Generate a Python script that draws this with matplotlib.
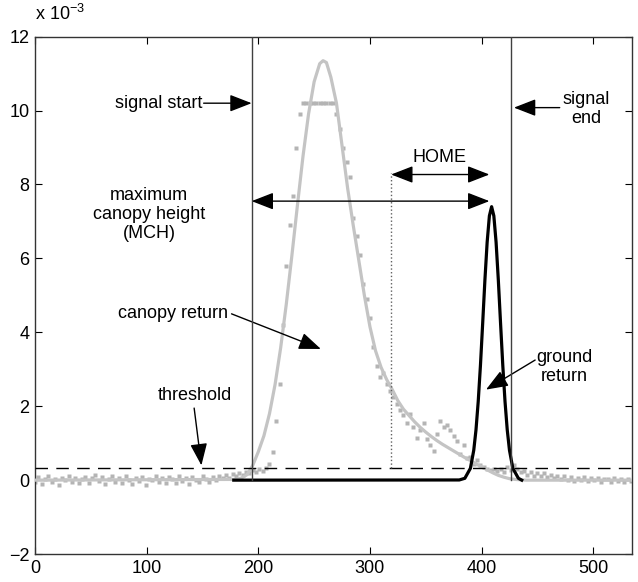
import matplotlib
matplotlib.use('Agg')
import matplotlib.pyplot as plt
import numpy as np

plt.rcParams['font.family'] = ['Liberation Sans', 'DejaVu Sans']
plt.rcParams['mathtext.default'] = 'regular'

# raw waveform samples (x 10^-3), one every 3 bins
sig_x = np.arange(0, 535, 3)
sig_y = [-0.05, 0.08, -0.10, 0.02, 0.10, -0.06, 0.04, -0.12, 0.06, 0.00,
         0.11, -0.04, 0.07, -0.09, 0.03, 0.09, -0.07, 0.05, 0.13, -0.03,
         0.08, -0.11, 0.02, 0.10, -0.05, 0.06, -0.08, 0.12, 0.01, -0.10,
         0.07, -0.02, 0.09, -0.13, 0.04, 0.00, 0.11, -0.06, 0.05, -0.09,
         0.08, 0.02, -0.07, 0.10, -0.03, 0.06, -0.10, 0.09, 0.01, -0.05,
         0.12, 0.03, -0.04, 0.08, 0.00, 0.10, 0.05, 0.14, 0.07, 0.16,
         0.12, 0.20, 0.15, 0.22, 0.18, 0.27, 0.22, 0.30, 0.26, 0.33,
         0.45, 0.75, 1.6, 2.6, 4.2, 5.8, 6.9, 7.7, 9.0, 9.9,
         10.2, 10.2, 10.2, 10.2, 10.2, 10.2, 10.2, 10.2, 10.2, 10.2,
         9.9, 9.5, 9.0, 8.6, 8.2, 7.1, 6.6, 6.1, 5.3, 4.9,
         4.4, 3.6, 3.1, 2.8, 2.9, 2.6, 2.4, 2.25, 2.05, 1.9,
         1.75, 1.55, 1.8, 1.45, 1.15, 1.35, 1.55, 1.1, 0.95, 0.8,
         1.25, 1.6, 1.45, 1.5, 1.35, 1.2, 1.05, 0.7, 0.95, 0.6,
         0.62, 0.45, 0.55, 0.4, 0.35, 0.3, 0.28, 0.3, 0.25, 0.3,
         0.22, 0.35, 0.28, 0.42, 0.3, 0.22, 0.25, 0.15, 0.22, 0.12,
         0.2, 0.1, 0.18, 0.08, 0.15, 0.05, 0.12, 0.03, 0.1, 0.0,
         0.08, -0.02, 0.06, 0.01, 0.09, -0.03, 0.05, 0.0, 0.07, -0.04,
         0.04, 0.02, -0.05, 0.06, -0.01, 0.04, -0.06, 0.03, -0.02]

# fitted canopy return (grey curve)
canopy_x = [0, 180, 185, 190, 195, 200, 205, 210, 215, 220,
            225, 230, 235, 240, 245, 250, 255, 258, 261, 265,
            270, 275, 280, 285, 290, 295, 300, 305, 310, 315,
            320, 325, 330, 335, 340, 345, 350, 355, 360, 365,
            370, 375, 380, 385, 390, 395, 400, 405, 410, 415,
            420, 425, 430, 440, 535]
canopy_y = [0, 0.02, 0.06, 0.15, 0.4, 0.77, 1.2, 1.8, 2.59, 3.58,
            4.75, 6.06, 7.43, 8.76, 9.91, 10.78, 11.27, 11.35, 11.3, 10.9,
            10.2, 9.05, 7.9, 6.9, 5.95, 5.0, 4.15, 3.5, 3.05, 2.72,
            2.45, 2.15, 1.92, 1.75, 1.58, 1.43, 1.3, 1.18, 1.07, 0.97,
            0.88, 0.79, 0.7, 0.61, 0.53, 0.44, 0.36, 0.28, 0.2, 0.13,
            0.08, 0.04, 0.02, 0.0, 0.0]

# fitted ground return (black curve)
ground_x = [178, 380, 385, 390, 393, 395, 397, 399, 401, 403,
            405, 407, 409, 411, 413, 415, 417, 419, 421, 423,
            425, 428, 433, 436]
ground_y = [0, 0.005, 0.05, 0.32, 0.81, 1.36, 2.13, 3.11, 4.25, 5.42,
            6.44, 7.15, 7.4, 7.15, 6.44, 5.42, 4.25, 3.11, 2.13, 1.36,
            0.81, 0.32, 0.05, 0.0]

sig_start = 194
sig_end = 426
home_x = 319
ground_peak = 409
threshold = 0.32

fig = plt.figure(figsize=(6.38, 5.82), dpi=100)
ax = fig.add_axes([0.055, 0.048, 0.936, 0.889])

ax.plot(sig_x, sig_y, 's', ms=2.2, color='#b4b4b4', mec='none', zorder=2)
ax.plot(canopy_x, canopy_y, color='#c4c4c4', lw=2.3, zorder=3)
ax.plot(ground_x, ground_y, color='black', lw=2.3, zorder=4)

ax.axhline(threshold, color='black', lw=1, dashes=(9, 6), zorder=5)
ax.plot([sig_start, sig_start], [0, 12], color='#404040', lw=1, zorder=5)
ax.plot([sig_end, sig_end], [0, 12], color='#404040', lw=1, zorder=5)
ax.plot([home_x, home_x], [threshold, 8.3], color='#606060', lw=1, ls=':', zorder=5)

head = dict(arrowstyle='-|>,head_length=0.9,head_width=0.35', color='black', lw=1,
            mutation_scale=15, shrinkA=0, shrinkB=0)
dhead = dict(arrowstyle='<|-|>,head_length=0.9,head_width=0.35', color='black', lw=1,
             mutation_scale=15, shrinkA=0, shrinkB=0)

fs = 13
ax.text(150, 10.2, 'signal start', ha='right', va='center', fontsize=fs)
ax.annotate('', xy=(sig_start, 10.2), xytext=(151, 10.2), arrowprops=head)

ax.text(494, 10.05, 'signal\nend', ha='center', va='center', fontsize=fs, linespacing=1.15)
ax.annotate('', xy=(sig_end + 3, 10.08), xytext=(470, 10.08), arrowprops=head)

ax.text(362, 8.73, 'HOME', ha='center', va='center', fontsize=fs)
ax.annotate('', xy=(home_x, 8.27), xytext=(ground_peak - 2, 8.27), arrowprops=dhead)

ax.text(102, 7.2, 'maximum\ncanopy height\n(MCH)', ha='center', va='center',
        fontsize=fs, linespacing=1.15)
ax.annotate('', xy=(sig_start, 7.55), xytext=(ground_peak - 2, 7.55), arrowprops=dhead)

ax.text(124, 4.5, 'canopy return', ha='center', va='center', fontsize=fs)
ax.annotate('', xy=(256, 3.55), xytext=(176, 4.5), arrowprops=head)

ax.text(474, 3.05, 'ground\nreturn', ha='center', va='center', fontsize=fs, linespacing=1.15)
ax.annotate('', xy=(404, 2.45), xytext=(448, 3.25), arrowprops=head)

ax.text(143, 2.3, 'threshold', ha='center', va='center', fontsize=fs)
ax.annotate('', xy=(149, 0.4), xytext=(142.5, 1.95), arrowprops=head)

ax.text(0, 12.35, r'x 10$^{-3}$', ha='left', va='bottom', fontsize=fs)

ax.set_xlim(0, 535)
ax.set_ylim(-2, 12)
ax.set_xticks(np.arange(0, 501, 100))
ax.set_yticks(np.arange(-2, 13, 2))
ax.tick_params(direction='in', top=True, right=True, length=5, labelsize=fs, pad=4)
for sp in ax.spines.values():
    sp.set_linewidth(1)
    sp.set_color('#333333')

plt.savefig('out.png', dpi=100)
